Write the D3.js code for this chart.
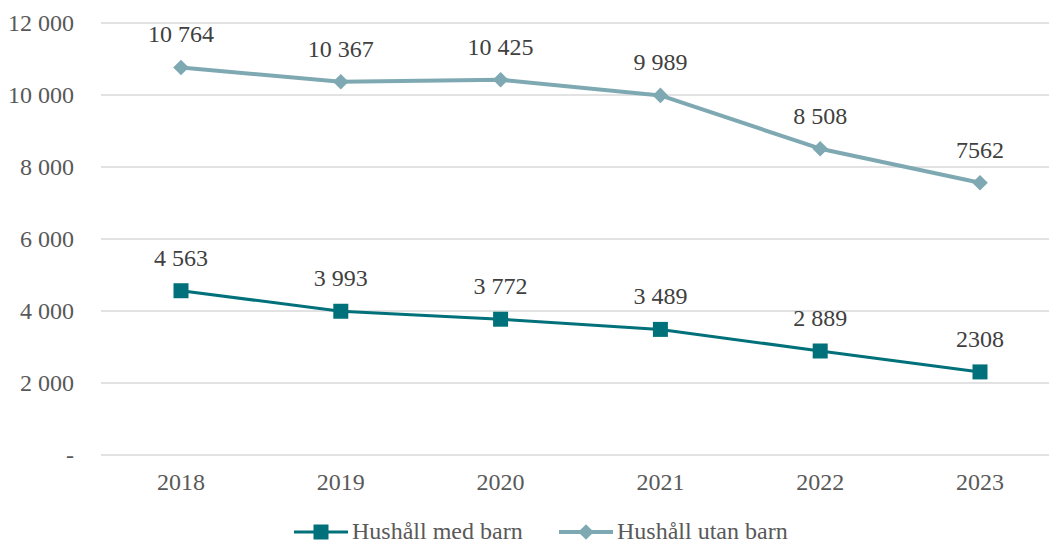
<!DOCTYPE html>
<html><head><meta charset="utf-8">
<script src="https://cdn.jsdelivr.net/npm/d3@7"></script>
<style>body{margin:0;background:#fff}svg{display:block}
svg text{font-family:"Liberation Serif","Times New Roman",Times,serif;}</style>
</head><body>
<svg id="c" width="1049" height="544"></svg>
<script>
const years = ["2018","2019","2020","2021","2022","2023"];
const medBarn = [4563, 3993, 3772, 3489, 2889, 2308];
const utanBarn = [10764, 10367, 10425, 9989, 8508, 7562];
const medLabels = ["4 563","3 993","3 772","3 489","2 889","2308"];
const utanLabels = ["10 764","10 367","10 425","9 989","8 508","7562"];
const yTicks = [0, 2000, 4000, 6000, 8000, 10000, 12000];
const yTickLabels = ["-", "2 000", "4 000", "6 000", "8 000", "10 000", "12 000"];
const seriesNames = ["Hushåll med barn", "Hushåll utan barn"];

const svg = d3.select("#c");
const fs = 24;
const x = d3.scalePoint().domain(years).range([181, 980]);
const y = d3.scaleLinear().domain([0, 12000]).range([455, 23]);

// grid
svg.append("g").selectAll("line").data(yTicks).join("line")
  .attr("x1", 101).attr("x2", 1060)
  .attr("y1", d => y(d)).attr("y2", d => y(d))
  .attr("stroke", "#d9d9d9").attr("stroke-width", 1.5);

// y labels
svg.append("g").selectAll("text").data(yTicks).join("text")
  .attr("x", 74).attr("y", d => y(d)).attr("dy", "0.35em")
  .attr("text-anchor", "end")
  .attr("font-size", fs).attr("fill", "#595959")
  .text((d, i) => yTickLabels[i]);

// x labels
svg.append("g").selectAll("text").data(years).join("text")
  .attr("x", d => x(d)).attr("y", 490)
  .attr("text-anchor", "middle")
  .attr("font-size", fs).attr("fill", "#595959")
  .text(d => d);

const cDark = "#00717a", cLight = "#7fa9b2";
const line = d3.line().x((d, i) => x(years[i])).y(d => y(d));

function drawSeries(vals, labels, color, width, marker) {
  svg.append("path").datum(vals).attr("d", line)
    .attr("fill", "none").attr("stroke", color).attr("stroke-width", width)
    .attr("stroke-linejoin", "round");
  const sym = marker === "square"
    ? d3.symbol().type(d3.symbolSquare).size(225)
    : d3.symbol().type(d3.symbolDiamond2).size(155);
  svg.append("g").selectAll("path").data(vals).join("path")
    .attr("transform", (d, i) => `translate(${x(years[i])},${y(d)})`)
    .attr("d", sym).attr("fill", color);
  svg.append("g").selectAll("text").data(vals).join("text")
    .attr("x", (d, i) => x(years[i])).attr("y", d => y(d) - 25)
    .attr("text-anchor", "middle")
    .attr("font-size", fs).attr("fill", "#404040")
    .text((d, i) => labels[i]);
}
drawSeries(utanBarn, utanLabels, cLight, 4, "diamond");
drawSeries(medBarn, medLabels, cDark, 3, "square");

// legend
const leg = [
  {name: seriesNames[0], color: cDark, w: 3, m: "square", x0: 294},
  {name: seriesNames[1], color: cLight, w: 4, m: "diamond", x0: 559}
];
leg.forEach(l => {
  const g = svg.append("g");
  g.append("line").attr("x1", l.x0).attr("x2", l.x0 + 54).attr("y1", 532).attr("y2", 532)
    .attr("stroke", l.color).attr("stroke-width", l.w);
  const sym = l.m === "square"
    ? d3.symbol().type(d3.symbolSquare).size(225)
    : d3.symbol().type(d3.symbolDiamond2).size(155);
  g.append("path").attr("transform", `translate(${l.x0 + 27},532)`).attr("d", sym).attr("fill", l.color);
  g.append("text").attr("x", l.x0 + 58).attr("y", 538.5)
    .attr("font-size", fs).attr("fill", "#595959")
    .text(l.name);
});
</script>
</body></html>
